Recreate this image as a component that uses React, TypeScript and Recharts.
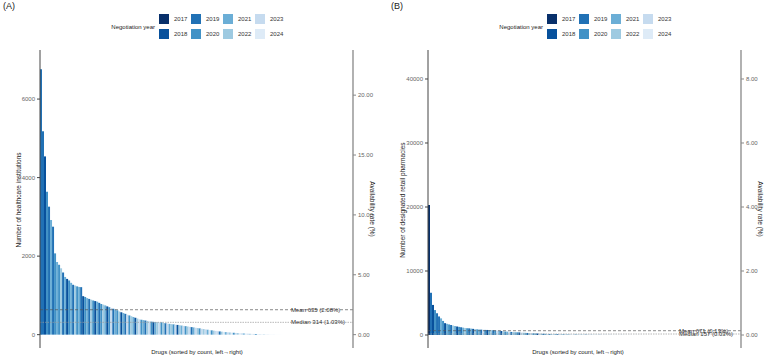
import React from 'react';
import { BarChart, Bar, XAxis, YAxis, Cell, ReferenceLine } from 'recharts';

const YEARS = [2017, 2018, 2019, 2020, 2021, 2022, 2023, 2024];
const YEAR_COLORS = ['#08306b', '#08519c', '#2171b5', '#4292c6', '#6baed6', '#9ecae1', '#c6dbef', '#deebf7'];

// (A) healthcare institutions stocking each negotiated drug, sorted descending
const HOSP_COUNTS = [
  6760, 5180, 4540, 3640, 3260, 2920, 2750, 2070, 1850, 1780,
  1690, 1580, 1470, 1420, 1380, 1320, 1270, 1250, 1230, 1215,
  1210, 980, 960, 930, 910, 890, 870, 855, 840, 810,
  780, 765, 745, 720, 700, 680, 660, 640, 620, 590,
  570, 550, 530, 510, 490, 470, 450, 430, 410, 390,
  380, 370, 360, 350, 340, 332, 325, 320, 318, 316,
  314, 298, 290, 282, 275, 268, 262, 255, 248, 240,
  232, 224, 216, 208, 200, 192, 184, 176, 168, 160,
  150, 142, 134, 126, 118, 110, 102, 95, 88, 82,
  76, 70, 65, 60, 56, 52, 48, 44, 40, 37,
  34, 31, 28, 25, 22, 20, 18, 16, 14, 12,
  10, 9, 8, 6, 5, 4, 3, 2, 2, 1, 1,
];
// index into YEARS (0 = 2017)
const HOSP_YEARS = [
  2, 2, 1, 3, 2, 4, 2, 3, 4, 3,
  5, 2, 4, 1, 3, 4, 2, 5, 3, 4,
  2, 1, 3, 4, 2, 5, 3, 1, 4, 2,
  3, 5, 4, 1, 3, 6, 2, 4, 3, 5,
  1, 4, 2, 6, 3, 5, 4, 1, 5, 6,
  3, 4, 2, 5, 6, 3, 1, 4, 5, 6,
  3, 5, 2, 6, 4, 5, 3, 6, 1, 5,
  4, 6, 3, 5, 6, 2, 4, 6, 5, 3,
  6, 5, 6, 4, 7, 3, 5, 6, 6, 2,
  5, 7, 4, 6, 5, 7, 3, 6, 5, 7,
  6, 4, 7, 6, 5, 7, 6, 3, 7, 6,
  7, 5, 7, 6, 7, 7, 6, 7, 7, 6, 7,
];
const HOSP_TOTAL = 30500;
const HOSP_MEAN = 635;
const HOSP_MEDIAN = 314;
const HOSP_TICKS = [0, 2000, 4000, 6000];
const HOSP_RATE_TICKS = [0, 5, 10, 15, 20];

// (B) designated retail pharmacies stocking each negotiated drug
const PHARM_COUNTS = [
  20300, 6600, 4700, 3900, 3400, 2900, 2600, 2200, 1850, 1750,
  1650, 1560, 1480, 1400, 1330, 1270, 1210, 1150, 1100, 1060,
  1040, 1000, 960, 920, 885, 860, 840, 820, 800, 790,
  780, 770, 750, 720, 690, 660, 620, 580, 540, 520,
  500, 480, 460, 440, 420, 400, 380, 360, 340, 320,
  300, 285, 270, 255, 240, 225, 210, 195, 182, 170,
  157, 148, 140, 132, 125, 118, 111, 105, 99, 93,
  88, 83, 78, 73, 69, 65, 61, 57, 54, 51,
  48, 45, 42, 40, 37, 35, 33, 31, 29, 27,
  25, 23, 22, 20, 19, 17, 16, 15, 14, 13,
  12, 11, 10, 9, 8, 7, 7, 6, 5, 5,
  4, 4, 3, 3, 2, 2, 2, 1, 1, 1, 1,
];
const PHARM_YEARS = [
  0, 2, 1, 3, 2, 2, 4, 3, 1, 4,
  3, 2, 5, 4, 1, 3, 2, 4, 5, 3,
  2, 4, 1, 5, 3, 4, 2, 6, 3, 1,
  4, 5, 2, 3, 6, 4, 1, 5, 3, 4,
  6, 2, 5, 4, 3, 1, 6, 5, 4, 2,
  5, 6, 3, 4, 1, 6, 5, 2, 4, 6,
  3, 5, 6, 4, 2, 6, 5, 3, 6, 4,
  5, 7, 6, 3, 5, 6, 4, 7, 2, 5,
  6, 4, 7, 5, 6, 3, 7, 6, 5, 7,
  4, 6, 7, 5, 7, 6, 3, 7, 6, 7,
  5, 7, 6, 7, 4, 7, 6, 7, 7, 5,
  7, 6, 7, 7, 6, 7, 7, 7, 6, 7, 7,
];
const PHARM_TOTAL = 500000;
const PHARM_MEAN = 671;
const PHARM_MEDIAN = 157;
const PHARM_TICKS = [0, 10000, 20000, 30000, 40000];
const PHARM_RATE_TICKS = [0, 2, 4, 6, 8];

const FONT = '"Liberation Sans", Arial, sans-serif';
const PANEL_W = 379;
const PANEL_H = 360;

const pct = (v: number, total: number) => ((v / total) * 100).toFixed(2);

function YearLegend() {
  return (
    <>
      <div style={{ position: 'absolute', left: 60, top: 24, width: 95, textAlign: 'right', fontSize: 6, lineHeight: '6px', color: '#222' }}>
        Negotiation year
      </div>
      {YEARS.map((y, k) => {
        const left = 159 + Math.floor(k / 2) * 32;
        const top = 14 + (k % 2) * 15;
        return (
          <React.Fragment key={y}>
            <div style={{ position: 'absolute', left, top, width: 10, height: 10, background: YEAR_COLORS[k] }} />
            <div style={{ position: 'absolute', left: left + 15, top: top + 2, fontSize: 6, lineHeight: '6px', color: '#333' }}>{y}</div>
          </React.Fragment>
        );
      })}
    </>
  );
}

interface PanelProps {
  tag: string;
  left: number;
  counts: number[];
  years: number[];
  total: number;
  mean: number;
  median: number;
  domain: [number, number];
  ticks: number[];
  rateTicks: number[];
  yTitle: string;
  yTitleX: number;
  xTitleX: number;
}

function Panel(p: PanelProps) {
  const data = p.counts.map((count, i) => ({ drug: i + 1, count, year: YEARS[p.years[i]] }));
  const rateDomain: [number, number] = [(p.domain[0] * 100) / p.total, (p.domain[1] * 100) / p.total];
  const text = { position: 'absolute' as const, whiteSpace: 'nowrap' as const, lineHeight: '1', color: '#1a1a1a' };

  return (
    <div style={{ position: 'absolute', left: p.left, top: 0, width: PANEL_W, height: PANEL_H }}>
      <div style={{ ...text, left: 3, top: 2, fontSize: 9 }}>{p.tag}</div>
      <YearLegend />
      <BarChart
        width={PANEL_W}
        height={PANEL_H}
        data={data}
        margin={{ top: 50, right: 2, bottom: 12, left: 10 }}
        barCategoryGap={0}
      >
        <XAxis dataKey="drug" hide padding={{ left: 0, right: 70 }} />
        <YAxis
          yAxisId="left"
          width={30}
          domain={p.domain}
          ticks={p.ticks}
          interval={0}
          allowDataOverflow
          tick={{ fontSize: 6, fill: '#666', fontFamily: FONT }}
          tickSize={3}
          tickMargin={2}
          axisLine={{ stroke: '#444' }}
          tickLine={{ stroke: '#444' }}
        />
        <YAxis
          yAxisId="right"
          orientation="right"
          width={24}
          domain={rateDomain}
          ticks={p.rateTicks}
          interval={0}
          allowDataOverflow
          tickFormatter={(v: number) => v.toFixed(2)}
          tick={{ fontSize: 6, fill: '#666', fontFamily: FONT }}
          tickSize={3}
          tickMargin={2}
          axisLine={{ stroke: '#888', strokeWidth: 1.3 }}
          tickLine={{ stroke: '#888' }}
        />
        <Bar yAxisId="left" dataKey="count" isAnimationActive={false}>
          {data.map((d, i) => (
            <Cell key={d.drug} fill={YEAR_COLORS[p.years[i]]} />
          ))}
        </Bar>
        <ReferenceLine
          yAxisId="left"
          y={p.mean}
          stroke="#555"
          strokeDasharray="3 2"
          strokeWidth={0.7}
          label={{
            value: `Mean ${p.mean} (${pct(p.mean, p.total)}%)`,
            position: 'insideLeft',
            offset: 251,
            fontSize: 6,
            fill: '#333',
            fontFamily: FONT,
          }}
        />
        <ReferenceLine
          yAxisId="left"
          y={p.median}
          stroke="#999"
          strokeDasharray="1.5 1"
          strokeWidth={0.7}
          label={{
            value: `Median ${p.median} (${pct(p.median, p.total)}%)`,
            position: 'insideLeft',
            offset: 251,
            fontSize: 6,
            fill: '#333',
            fontFamily: FONT,
          }}
        />
      </BarChart>
      <div style={{ ...text, left: p.yTitleX, top: 200, fontSize: 6.5, transform: 'translate(-50%, -50%) rotate(-90deg)' }}>
        {p.yTitle}
      </div>
      <div style={{ ...text, left: 372, top: 209, fontSize: 6.5, transform: 'translate(-50%, -50%) rotate(90deg)' }}>
        Availability rate (%)
      </div>
      <div style={{ ...text, left: p.xTitleX, top: 352, fontSize: 6, transform: 'translate(-50%, -50%)' }}>
        Drugs (sorted by count, left→right)
      </div>
    </div>
  );
}

export default function App() {
  return (
    <div style={{ position: 'absolute', left: 0, top: 0, width: 767, height: 360, background: '#fff', fontFamily: FONT, overflow: 'hidden' }}>
      <Panel
        tag="(A)"
        left={0}
        counts={HOSP_COUNTS}
        years={HOSP_YEARS}
        total={HOSP_TOTAL}
        mean={HOSP_MEAN}
        median={HOSP_MEDIAN}
        domain={[-340, 7250]}
        ticks={HOSP_TICKS}
        rateTicks={HOSP_RATE_TICKS}
        yTitle="Number of healthcare institutions"
        yTitleX={19}
        xTitleX={197}
      />
      <Panel
        tag="(B)"
        left={388}
        counts={PHARM_COUNTS}
        years={PHARM_YEARS}
        total={PHARM_TOTAL}
        mean={PHARM_MEAN}
        median={PHARM_MEDIAN}
        domain={[-2030, 44530]}
        ticks={PHARM_TICKS}
        rateTicks={PHARM_RATE_TICKS}
        yTitle="Number of designated retail pharmacies"
        yTitleX={15}
        xTitleX={190}
      />
    </div>
  );
}
